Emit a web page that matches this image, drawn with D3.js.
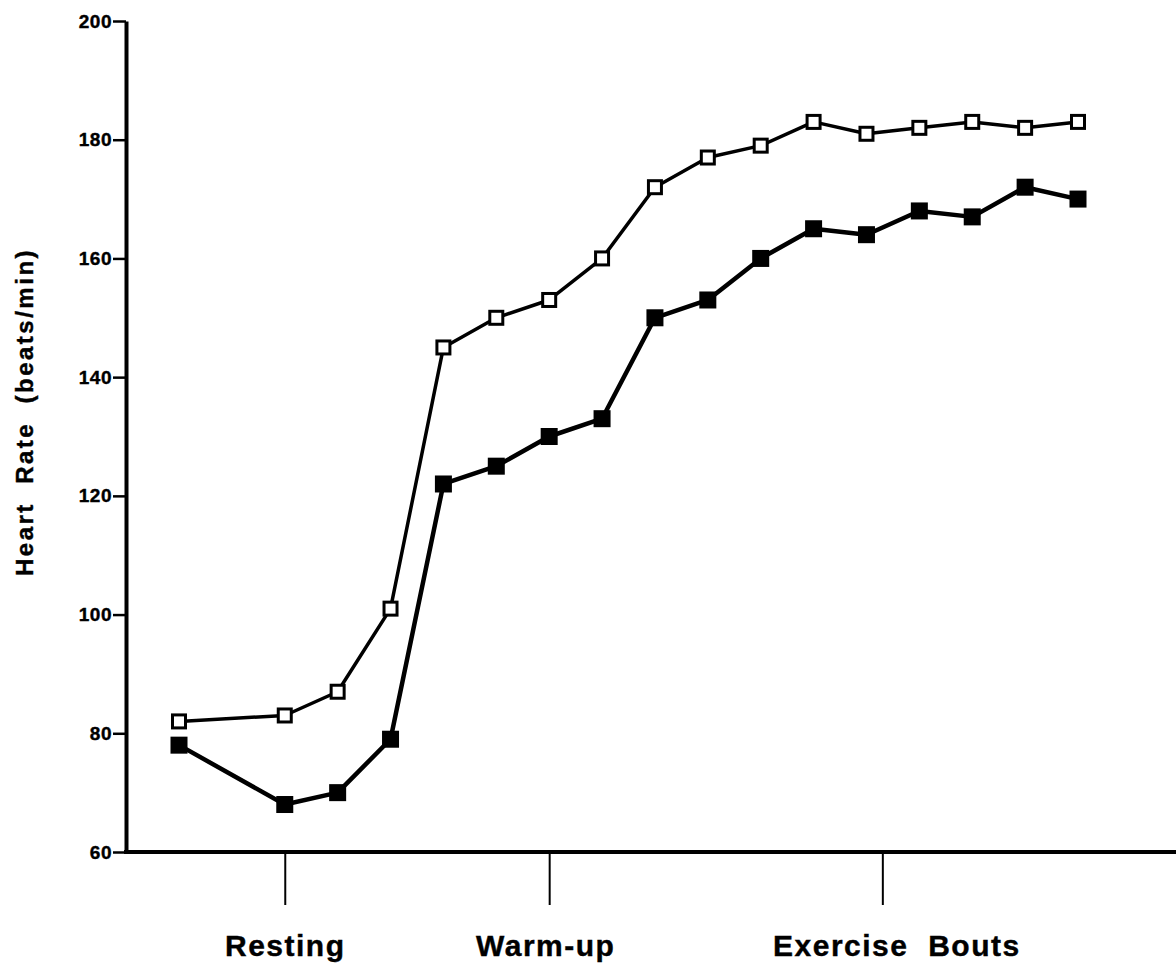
<!DOCTYPE html>
<html>
<head>
<meta charset="utf-8">
<script src="https://cdn.jsdelivr.net/npm/d3@7"></script>
<style>
  html, body { margin: 0; padding: 0; background: #fff; }
  svg { display: block; }
  text { font-family: "Liberation Sans", Arial, Helvetica, sans-serif; font-weight: bold; fill: #000; stroke: #000; stroke-width: 0.4px; }
</style>
</head>
<body>
<script>
// ---- data ----
const pointIndex = [0, 2, 3, 4, 5, 6, 7, 8, 9, 10, 11, 12, 13, 14, 15, 16, 17];
const openSeries = [82, 83, 87, 101, 145, 150, 153, 160, 172, 177, 179, 183, 181, 182, 183, 182, 183];
const filledSeries = [78, 68, 70, 79, 122, 125, 130, 133, 150, 153, 160, 165, 164, 168, 167, 172, 170];
const phaseLabels = ["Resting", "Warm-up", "Exercise  Bouts"];
const phasePositions = [2, 7, 13.3];
const yTicks = [60, 80, 100, 120, 140, 160, 180, 200];
const yLabel = "Heart  Rate  (beats/min)";

// ---- layout ----
const W = 1176, H = 970;
const axisLeftX = 126, axisBottomY = 852, axisTopY = 21;

const svg = d3.select("body").append("svg").attr("width", W).attr("height", H);

const x = d3.scaleLinear().domain([0, 17]).range([179, 1078]);
const y = d3.scaleLinear().domain([60, 200]).range([axisBottomY, axisTopY]);

// y axis
const yAxis = svg.append("g").attr("transform", `translate(${axisLeftX},0)`)
  .call(d3.axisLeft(y).tickValues(yTicks).tickSize(13).tickSizeOuter(0).tickPadding(1));
yAxis.select(".domain").attr("stroke", "#000").attr("stroke-width", 4);
yAxis.selectAll(".tick line").attr("stroke", "#000").attr("stroke-width", 2.5);
yAxis.selectAll(".tick text")
  .style("font-size", "19px").style("letter-spacing", "0.5px")
  .attr("fill", "#000");

// x axis line
svg.append("line")
  .attr("x1", axisLeftX - 2).attr("x2", W)
  .attr("y1", y(60)).attr("y2", y(60))
  .attr("stroke", "#000").attr("stroke-width", 4);

// x phase ticks
const xAxis = svg.append("g").attr("transform", `translate(0,${y(60)})`)
  .call(d3.axisBottom(x).tickValues(phasePositions).tickSize(53).tickSizeOuter(0)
    .tickFormat((d, i) => phaseLabels[i]));
xAxis.select(".domain").remove();
xAxis.selectAll(".tick line").attr("stroke", "#000").attr("stroke-width", 2);
xAxis.selectAll(".tick text")
  .attr("y", 104).attr("dy", 0)
  .attr("dx", (d, i) => i === 2 ? 14 : (i === 1 ? -4 : 0))
  .style("font-size", "30px").style("letter-spacing", "1.5px")
  .attr("fill", "#000")
  .attr("xml:space", "preserve").style("white-space", "pre");

// y label
svg.append("text")
  .attr("transform", `translate(33,${412}) rotate(-90)`)
  .attr("text-anchor", "middle")
  .style("font-size", "24px").style("letter-spacing", "2.5px")
  .style("white-space", "pre")
  .text(yLabel);

// lines
const openData = pointIndex.map((d, i) => ({ i: d, v: openSeries[i] }));
const filledData = pointIndex.map((d, i) => ({ i: d, v: filledSeries[i] }));
const line = d3.line().x(d => x(d.i)).y(d => y(d.v));

svg.append("path").datum(openData).attr("d", line)
  .attr("fill", "none").attr("stroke", "#000").attr("stroke-width", 3.5).attr("stroke-linejoin", "round");
svg.append("path").datum(filledData).attr("d", line)
  .attr("fill", "none").attr("stroke", "#000").attr("stroke-width", 4.5).attr("stroke-linejoin", "round");

// markers
const os = 13;
svg.selectAll(".openMark").data(openData).enter().append("rect")
  .attr("x", d => x(d.i) - os / 2).attr("y", d => y(d.v) - os / 2)
  .attr("width", os).attr("height", os)
  .attr("fill", "#fff").attr("stroke", "#000").attr("stroke-width", 3);

const fs = 17;
svg.selectAll(".filledMark").data(filledData).enter().append("rect")
  .attr("x", d => x(d.i) - fs / 2).attr("y", d => y(d.v) - fs / 2)
  .attr("width", fs).attr("height", fs)
  .attr("fill", "#000");
</script>
</body>
</html>
